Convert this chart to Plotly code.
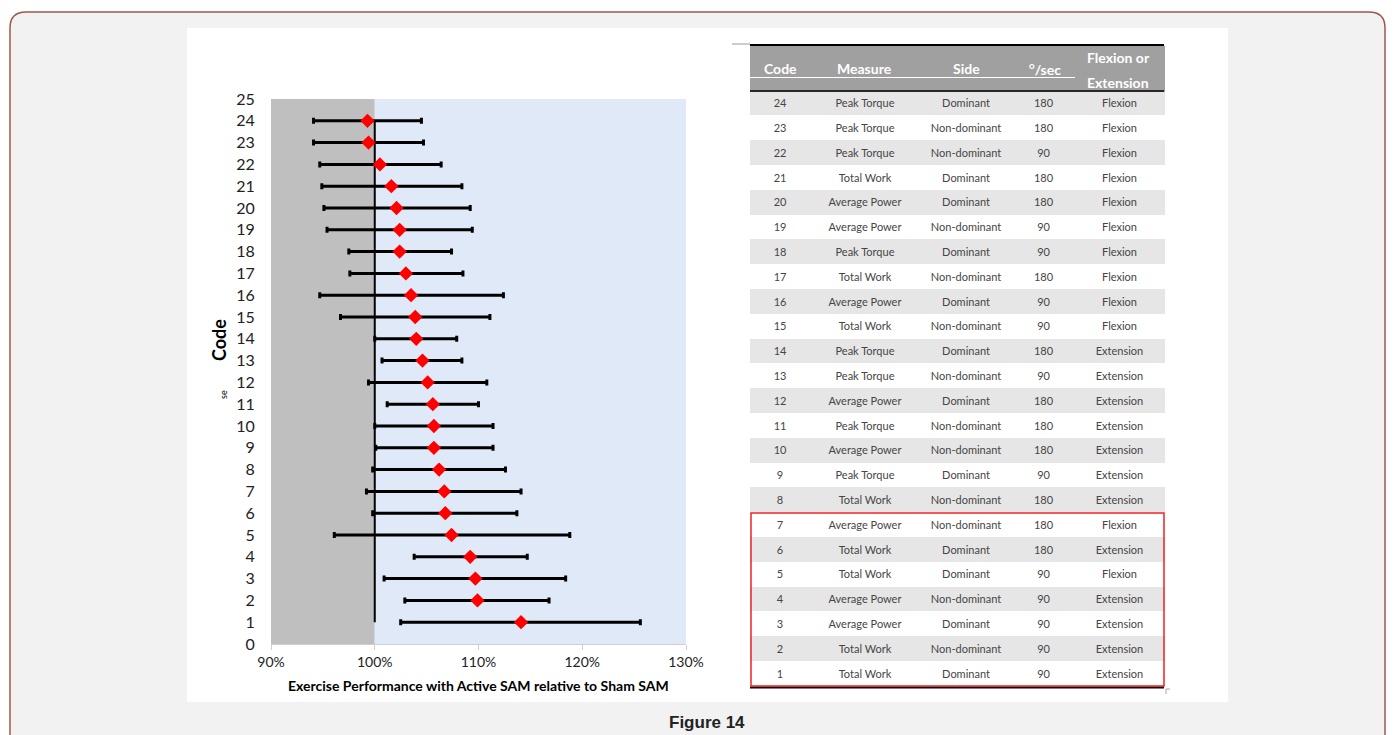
import plotly.graph_objects as go

# ---------------- data ----------------
codes = list(range(1, 25))
ratio_mean = [114.1, 109.9, 109.7, 109.2, 107.4, 106.8, 106.7, 106.2, 105.7, 105.7,
              105.6, 105.1, 104.6, 104.0, 103.9, 103.5, 103.0, 102.4, 102.4, 102.1,
              101.6, 100.5, 99.4, 99.3]
ratio_low = [102.5, 102.9, 100.9, 103.8, 96.1, 99.8, 99.2, 99.8, 100.1, 100.0,
             101.2, 99.4, 100.7, 100.0, 96.7, 94.7, 97.6, 97.5, 95.4, 95.1,
             94.9, 94.7, 94.1, 94.1]
ratio_high = [125.6, 116.8, 118.4, 114.7, 118.8, 113.7, 114.1, 112.6, 111.4, 111.4,
              110.0, 110.8, 108.4, 107.9, 111.1, 112.4, 108.5, 107.4, 109.4, 109.2,
              108.4, 106.4, 104.7, 104.5]
x_ticks = [0.9, 1.0, 1.1, 1.2, 1.3]
y_ticks = list(range(0, 26))

# table (rows listed top to bottom: code 24 ... 1)
tbl_code = list(range(24, 0, -1))
tbl_measure = ["Peak Torque", "Peak Torque", "Peak Torque", "Total Work", "Average Power",
               "Average Power", "Peak Torque", "Total Work", "Average Power", "Total Work",
               "Peak Torque", "Peak Torque", "Average Power", "Peak Torque", "Average Power",
               "Peak Torque", "Total Work", "Average Power", "Total Work", "Total Work",
               "Average Power", "Average Power", "Total Work", "Total Work"]
tbl_side = ["Dominant", "Non-dominant", "Non-dominant", "Dominant", "Dominant",
            "Non-dominant", "Dominant", "Non-dominant", "Dominant", "Non-dominant",
            "Dominant", "Non-dominant", "Dominant", "Non-dominant", "Non-dominant",
            "Dominant", "Non-dominant", "Non-dominant", "Dominant", "Dominant",
            "Non-dominant", "Dominant", "Non-dominant", "Dominant"]
tbl_speed = [180, 180, 90, 180, 180, 90, 90, 180, 90, 90, 180, 90, 180, 180, 180, 90,
             180, 180, 180, 90, 90, 90, 90, 90]
tbl_motion = ["Flexion"] * 10 + ["Extension"] * 7 + ["Flexion", "Extension", "Flexion"] + ["Extension"] * 4
tbl_header = ["Code", "Measure", "Side", "<sup>o</sup>/sec", "Flexion or", "Extension"]

# ---------------- geometry helpers ----------------
OFF = 8  # page body margin
W, H = 1395 - OFF, 735 - OFF
def px(x):
    return (x - OFF) / W
def py(y):
    return 1 - (y - OFF) / H

fig = go.Figure()

mean = [v / 100 for v in ratio_mean]
plus = [(h - m) / 100 for h, m in zip(ratio_high, ratio_mean)]
minus = [(m - l) / 100 for m, l in zip(ratio_mean, ratio_low)]

fig.add_trace(go.Scatter(
    x=mean, y=codes, mode="markers",
    marker=dict(symbol="diamond", size=11, color="#ff0000"),
    error_x=dict(type="data", symmetric=False, array=plus, arrayminus=minus,
                 color="black", thickness=3, width=3),
    showlegend=False, hoverinfo="x+y",
))

row_fill = ["#e6e6e6" if c % 2 == 0 else "#ffffff" for c in tbl_code]
fig.add_trace(go.Table(
    domain=dict(x=[px(750), px(1164)], y=[py(692), py(46)]),
    columnwidth=[60, 110, 92, 63, 89],
    header=dict(values=[""] * 5,
                fill_color="#a0a0a0", line=dict(color="#a0a0a0", width=1),
                font=dict(family="Lato, Open Sans, sans-serif", size=10, color="white"),
                align="center", height=45),
    cells=dict(values=[tbl_code, tbl_measure, tbl_side, tbl_speed, tbl_motion],
               fill_color=[row_fill] * 5, line=dict(color=[row_fill] * 5, width=1),
               font=dict(family="Lato, Open Sans, sans-serif", size=11, color="#454545"),
               align="center", height=24.8),
))

shapes = []
# outer rounded container
x0, y0, x1, y1, r = 10, 12, 1385, 745, 16
path = (f"M {px(x0)},{py(y0 + r)} Q {px(x0)},{py(y0)} {px(x0 + r)},{py(y0)} "
        f"L {px(x1 - r)},{py(y0)} Q {px(x1)},{py(y0)} {px(x1)},{py(y0 + r)} "
        f"L {px(x1)},{py(y1)} L {px(x0)},{py(y1)} Z")
shapes.append(dict(type="path", xref="paper", yref="paper", path=path,
                   fillcolor="#f2f2f2", line=dict(color="#9c5b4b", width=1.5), layer="below"))
# white image area
shapes.append(dict(type="rect", xref="paper", yref="paper", x0=px(187), x1=px(1228),
                   y0=py(702), y1=py(28), fillcolor="white", line=dict(width=0), layer="below"))
# plot backgrounds
shapes.append(dict(type="rect", xref="x", yref="y domain", x0=0.9, x1=1.0, y0=0, y1=1,
                   fillcolor="#bfbfbf", line=dict(width=0), layer="below"))
shapes.append(dict(type="rect", xref="x", yref="y domain", x0=1.0, x1=1.3, y0=0, y1=1,
                   fillcolor="#dfe9f7", line=dict(width=0), layer="below"))
# reference line at 100%
shapes.append(dict(type="line", xref="x", yref="y", x0=1.0, x1=1.0, y0=1, y1=24,
                   line=dict(color="black", width=2), layer="below"))
# table decorations
shapes.append(dict(type="line", xref="paper", yref="paper", x0=px(750), x1=px(1164),
                   y0=py(45), y1=py(45), line=dict(color="black", width=2)))
shapes.append(dict(type="line", xref="paper", yref="paper", x0=px(732), x1=px(750),
                   y0=py(44), y1=py(44), line=dict(color="#999999", width=1)))
shapes.append(dict(type="line", xref="paper", yref="paper", x0=px(750), x1=px(1075),
                   y0=py(77.5), y1=py(77.5), line=dict(color="white", width=1)))
shapes.append(dict(type="line", xref="paper", yref="paper", x0=px(750), x1=px(1164),
                   y0=py(91), y1=py(91), line=dict(color="black", width=1.5)))
shapes.append(dict(type="line", xref="paper", yref="paper", x0=px(750), x1=px(1164),
                   y0=py(687.5), y1=py(687.5), line=dict(color="black", width=2)))
shapes.append(dict(type="rect", xref="paper", yref="paper", x0=px(751), x1=px(1164),
                   y0=py(686), y1=py(513), line=dict(color="#ee2222", width=1.5)))
shapes.append(dict(type="path", xref="paper", yref="paper",
                   path=f"M {px(1166)},{py(694)} L {px(1166)},{py(689)} L {px(1170)},{py(689)}",
                   line=dict(color="#aaaaaa", width=1)))

def ann(text, x, y, size, angle=0, family="Lato, sans-serif", color="black"):
    return dict(text=text, xref="paper", yref="paper", x=px(x), y=py(y),
                xanchor="center", yanchor="middle", showarrow=False, textangle=angle,
                font=dict(family=family, size=size, color=color))

# header label positions (centre x, centre y) in reference pixels
hdr_pos = [(780, 69), (864, 69), (966, 69), (1045, 68), (1118, 58), (1118, 82.5)]

annotations = [
    ann("<b>Code</b>", 219, 340, 18, angle=-90),
    ann("se", 223, 395, 9, angle=-90),
    ann("<b>Exercise Performance with Active SAM relative to Sham SAM</b>", 478, 685, 14),
    ann("<b>Figure 14</b>", 707, 722, 17, family="Liberation Sans, Arial, sans-serif", color="#222222"),
]
for label, (hx, hy) in zip(tbl_header, hdr_pos):
    annotations.append(ann("<b>%s</b>" % label, hx, hy, 14, family="Lato, Open Sans, sans-serif",
                           color="white"))

fig.update_layout(
    width=W, height=H,
    margin=dict(l=0, r=0, t=0, b=0, pad=0, autoexpand=False),
    paper_bgcolor="white", plot_bgcolor="rgba(0,0,0,0)",
    shapes=shapes, annotations=annotations,
    xaxis=dict(domain=[px(271), px(686)], range=[0.9, 1.3], tickvals=x_ticks,
               tickformat=".0%", showgrid=False, zeroline=False, automargin=False,
               showline=True, linecolor="#d0d0d0", linewidth=1,
               ticks="outside", ticklen=5, tickcolor="#d0d0d0",
               tickfont=dict(family="Lato, sans-serif", size=14, color="#222222"),
               fixedrange=True),
    yaxis=dict(domain=[py(644), py(99)], range=[0, 25], tickvals=y_ticks,
               showgrid=False, zeroline=False, showline=False, automargin=False,
               ticks="outside", ticklen=12, tickcolor="rgba(0,0,0,0)",
               tickfont=dict(family="Lato, sans-serif", size=16, color="#222222"),
               fixedrange=True),
)

fig.write_html("out.html")
